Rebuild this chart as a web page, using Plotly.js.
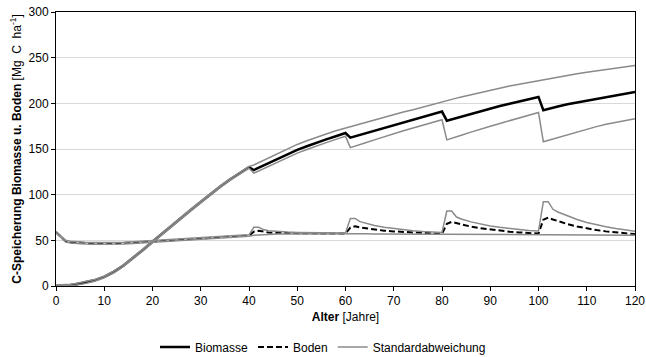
<!DOCTYPE html>
<html>
<head>
<meta charset="utf-8">
<script src="https://cdn.plot.ly/plotly-3.0.1.min.js"></script>
<style>html,body{margin:0;padding:0;background:#fff;}#chart{width:646px;height:357px;}</style>
</head>
<body>
<div id="chart"></div>
<script>
// Age (years)
var age = [0,1,2,3,4,6,8,10,12,14,16,18,20,22,24,26,28,30,32,34,36,38,40,
  41,42,43,44,46,48,50,52,54,56,58,60,
  61,62,63,64,66,68,70,72,74,76,78,80,
  81,82,83,84,86,88,90,92,94,96,98,100,
  101,102,103,104,106,108,110,112,114,116,118,120];

// Biomasse mean
var biomasse = [0,0.2,0.5,1,1.7,3.6,6.2,10,15.5,22.5,30.5,39.5,48.5,57.5,66.3,75,83.5,92,100.5,108.7,116.3,123.5,130,
  127,129.5,132,134.5,139.5,144.5,149,153,157,160.5,164,167.5,
  162.5,164,165.5,167,170,173,176,179,182,185,188,191,
  181,182.5,184,185.5,188.5,191.5,194.5,197,199.5,202,204.5,207,
  192.5,194,195.3,196.5,199,201,203,205,207,209,211,212.5];

// Biomasse + SD
var biomasseHi = [1,1.2,1.5,2,2.7,4.6,7.2,11,16.5,23.5,31.5,40.5,49.5,58.5,67.3,76,84.5,93,101.5,109.7,117.3,124.5,131,
  132.5,135,137.5,140,145,150,155,159,163,166.5,170,173,
  174.5,176,177.5,179,182,185,188,190.5,193,196,199,202,
  203,204.5,205.7,207,209.5,212,214.5,217,219,221,223,225,
  226,227,228,229,231,232.5,234,235.5,237,238.5,240,241.5];

// Biomasse - SD
var biomasseLo = [0,0,0,0,0.7,2.6,5.2,9,14.5,21.5,29.5,38.5,47.5,56.5,65.3,74,82.5,91,99.5,107.7,115.3,122.5,129,
  123.5,126,128.5,131,136,141,145.5,149.5,153.5,157,160.5,164,
  151.5,153,154.7,156.5,160,163.5,167,170,173,176,179,182,
  160,161.5,163.2,165,168.5,172,175,178,181,184,187,190,
  158,159.5,161.2,163,166,169,172,174.5,177,179,181,183];

// Boden mean
var boden = [59,54,49,48,47.5,47,46.6,46.5,46.7,47,47.5,48.2,49,49.8,50.5,51.2,51.8,52.4,53,53.6,54.2,54.7,55.2,
  59.5,60.5,59.2,58.6,58.1,57.8,57.7,57.6,57.6,57.6,57.5,57.5,
  64,65.5,64,63.2,61.7,60.6,59.8,59.1,58.5,58,57.6,57.2,
  68,70.2,68.8,67.4,65,63.2,61.7,60.5,59.5,58.7,58,57.4,
  72.5,74.8,72.8,71,67.8,65.2,63,61.2,59.8,58.6,57.6,56.8];

// Boden + SD
var bodenHi = [60,55,50,49,48.5,48,47.6,47.5,47.7,48,48.5,49.2,50,50.8,51.5,52.2,52.8,53.4,54,54.6,55.2,55.7,56,
  64.2,64.2,61.8,60.6,59.6,59,58.7,58.5,58.4,58.3,58.2,58.1,
  74,74,70.5,68.8,66.2,64.3,62.8,61.6,60.6,59.8,59.2,58.7,
  82,82,75.5,73.3,70.2,67.8,65.8,64.2,62.9,61.8,60.9,60.2,
  92.3,92.3,84,81,76.5,72.8,69.6,67,64.8,62.9,61.3,60];

// Boden - SD
var bodenLo = [58,53,48,47,46.5,46,45.6,45.5,45.7,46,46.5,47.2,48,48.8,49.5,50.2,50.8,51.4,52,52.6,53.2,53.7,54.4,
  55.6,56,56.3,56.5,56.8,57,57.1,57.2,57.2,57.2,57.2,57.2,
  57.2,57.2,57.1,57.1,57,57,56.9,56.9,56.8,56.8,56.7,56.7,
  56.6,56.6,56.6,56.5,56.5,56.4,56.4,56.3,56.3,56.3,56.2,56.2,
  56.2,56.1,56.1,56.1,56,56,55.9,55.8,55.8,55.7,55.7,55.6];

var xTicks = [0,10,20,30,40,50,60,70,80,90,100,110,120];
var yTicks = [0,50,100,150,200,250,300];

var sdColor = '#8a8a8a';
var traces = [
  {x: age, y: biomasse, name: 'Biomasse', mode: 'lines', line: {color: '#000', width: 2.5}, legendrank: 1},
  {x: age, y: boden, name: 'Boden', mode: 'lines', line: {color: '#000', width: 2, dash: '6px,3px'}, legendrank: 2},
  {x: age, y: biomasseHi, name: 'Standardabweichung', mode: 'lines', line: {color: sdColor, width: 1.5}, legendgroup: 'sd', legendrank: 3},
  {x: age, y: biomasseLo, name: 'Standardabweichung', mode: 'lines', line: {color: sdColor, width: 1.5}, legendgroup: 'sd', showlegend: false},
  {x: age, y: bodenHi, name: 'Standardabweichung', mode: 'lines', line: {color: sdColor, width: 1.5}, legendgroup: 'sd', showlegend: false},
  {x: age, y: bodenLo, name: 'Standardabweichung', mode: 'lines', line: {color: sdColor, width: 1.5}, legendgroup: 'sd', showlegend: false}
];

var layout = {
  width: 646, height: 357,
  margin: {l: 56, r: 11, t: 12, b: 71},
  paper_bgcolor: '#fff', plot_bgcolor: '#fff',
  font: {family: 'Liberation Sans, Arial, sans-serif', size: 12, color: '#000'},
  showlegend: true,
  legend: {orientation: 'h', xref: 'container', yref: 'container', x: 0.5, xanchor: 'center', y: 0.028, yanchor: 'middle',
    font: {size: 12}, itemwidth: 30, tracegroupgap: 0},
  xaxis: {
    range: [0, 120], tickvals: xTicks, ticktext: xTicks.map(String),
    ticks: 'outside', ticklen: 4, tickcolor: '#000',
    showline: true, linecolor: '#000', linewidth: 1, mirror: true,
    showgrid: false, zeroline: false, automargin: false,
    title: {text: '<b>Alter</b> [Jahre]', font: {size: 12}, standoff: 5}
  },
  yaxis: {
    range: [0, 300], tickvals: yTicks, ticktext: yTicks.map(String),
    ticks: 'outside', ticklen: 4, tickcolor: '#000',
    showline: true, linecolor: '#000', linewidth: 1, mirror: true,
    showgrid: true, gridcolor: '#d9d9d9', gridwidth: 1, zeroline: false, automargin: false,
    title: {text: '<b>C-Speicherung Biomasse u. Boden</b> [Mg  C  ha<sup>-1</sup>]', font: {size: 12}, standoff: 4}
  }
};

Plotly.newPlot('chart', traces, layout, {displayModeBar: false, staticPlot: true});
</script>
</body>
</html>
